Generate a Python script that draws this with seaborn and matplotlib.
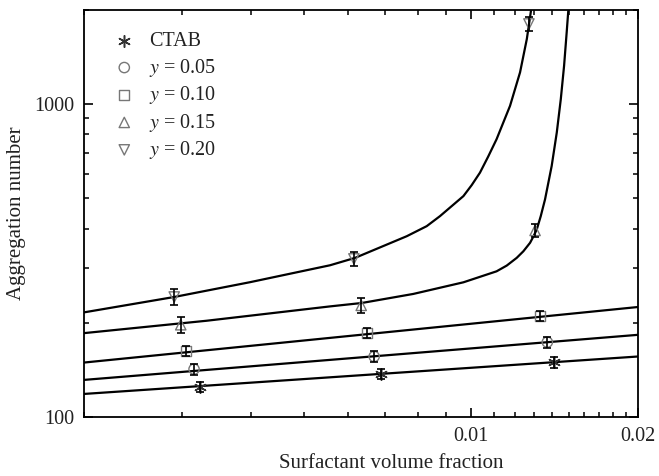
import matplotlib
matplotlib.use("Agg")
import matplotlib.pyplot as plt
import matplotlib.ticker as mticker
import numpy as np
import pandas as pd
import seaborn as sns

# ---- data ----
series_names = ["CTAB", "$y$ = 0.05", "$y$ = 0.10", "$y$ = 0.15", "$y$ = 0.20"]

ctab_x = [0.00324, 0.00687, 0.01411]
ctab_y = [124.8, 137.0, 149.7]
ctab_err = [5, 5, 6]

y05_x = [0.00316, 0.00668, 0.01372]
y05_y = [142.2, 156.1, 173.5]
y05_err = [6, 6, 7]

y10_x = [0.00306, 0.00649, 0.01331]
y10_y = [162.7, 185.4, 210.7]
y10_err = [6.5, 7, 8]

y15_x = [0.00299, 0.00633, 0.01304]
y15_y = [197.2, 227.4, 394.7]
y15_err = [11, 12, 18]

y20_x = [0.00291, 0.00614, 0.01271]
y20_y = [241.9, 320.2, 1805]
y20_err = [14, 17, 90]

fit_ctab_x = [0.002, 0.02]
fit_ctab_y = [118.5, 156.1]
fit_05_x = [0.002, 0.02]
fit_05_y = [131.4, 183.1]
fit_10_x = [0.002, 0.02]
fit_10_y = [149.3, 224.7]
fit_15_x = [0.002, 0.00333, 0.00556, 0.00634, 0.00786, 0.00968, 0.01111, 0.01159,
            0.01208, 0.01242, 0.01277, 0.01294, 0.01313, 0.01335, 0.01359, 0.01397,
            0.01427, 0.01451, 0.01471, 0.01487, 0.01497]
fit_15_y = [185.4, 203.1, 225.7, 231.4, 247.4, 269.5, 292.2, 304.8,
            322.6, 338.7, 360.4, 376.7, 397.5, 438.5, 496.1, 634.2,
            811.7, 1037.5, 1327, 1698, 1991]
fit_20_x = [0.002, 0.00291, 0.00399, 0.00556, 0.00617, 0.00765, 0.00831, 0.00878,
            0.00968, 0.01002, 0.01037, 0.01073, 0.01111, 0.01175, 0.01225, 0.0126, 0.01282]
fit_20_y = [216.0, 241.9, 269.8, 305.5, 322.6, 378.4, 407.4, 438.5,
            508.3, 551.2, 604.1, 679.9, 772.4, 987.6, 1264, 1616, 1991]

x_ticks = [0.01, 0.02]
x_ticklabels = ["0.01", "0.02"]
y_ticks = [100, 1000]
y_ticklabels = ["100", "1000"]

# ---- style ----
sns.set_theme(style="ticks")
plt.rcParams["font.family"] = ["Liberation Serif", "DejaVu Serif"]
plt.rcParams["mathtext.fontset"] = "stix"

fig = plt.figure(figsize=(6.59, 4.76), dpi=100)
ax = fig.add_axes([84 / 659, 1 - 417 / 476, 554 / 659, 407 / 476])

# fitted curves
fits = [(fit_ctab_x, fit_ctab_y), (fit_05_x, fit_05_y), (fit_10_x, fit_10_y),
        (fit_15_x, fit_15_y), (fit_20_x, fit_20_y)]
fit_df = pd.concat([pd.DataFrame({"x": fx, "y": fy, "s": i}) for i, (fx, fy) in enumerate(fits)],
                   ignore_index=True)
sns.lineplot(data=fit_df, x="x", y="y", units="s", estimator=None, sort=False,
             color="black", lw=1.6, ax=ax, zorder=2, legend=False,
             solid_joinstyle="round")

# data points
points = [(ctab_x, ctab_y, ctab_err, (6, 2, 0)),
          (y05_x, y05_y, y05_err, "o"),
          (y10_x, y10_y, y10_err, "s"),
          (y15_x, y15_y, y15_err, "^"),
          (y20_x, y20_y, y20_err, "v")]
handles = []
for name, (px, py, pe, mk) in zip(series_names, points):
    df = pd.DataFrame({"x": px, "y": py})
    if mk == (6, 2, 0):
        sns.scatterplot(data=df, x="x", y="y", marker=mk, s=70, color="#333333",
                        linewidth=1.1, ax=ax, zorder=3, label=name)
    else:
        sns.scatterplot(data=df, x="x", y="y", marker=mk, s=55, facecolors="none",
                        edgecolor="#777777", linewidth=1.0, ax=ax, zorder=3, label=name)
    handles.append(ax.collections[-1])
    ax.errorbar(px, py, yerr=pe, fmt="none", ecolor="black", elinewidth=1.2,
                capsize=3, capthick=1.2, zorder=4)

ax.set_xscale("log")
ax.set_yscale("log")
ax.set_xlim(0.002, 0.02)
ax.set_ylim(100, 2000)

ax.xaxis.set_major_locator(mticker.FixedLocator(x_ticks))
ax.xaxis.set_major_formatter(mticker.FixedFormatter(x_ticklabels))
ax.xaxis.set_minor_locator(mticker.MultipleLocator(0.001))
ax.xaxis.set_minor_formatter(mticker.NullFormatter())
ax.yaxis.set_major_locator(mticker.FixedLocator(y_ticks))
ax.yaxis.set_major_formatter(mticker.FixedFormatter(y_ticklabels))
ax.yaxis.set_minor_locator(mticker.LogLocator(base=10, subs=range(2, 10)))
ax.yaxis.set_minor_formatter(mticker.NullFormatter())

ax.tick_params(which="both", direction="in", top=True, right=True, color="black",
               labelsize=14.5, pad=7, labelcolor="#222222")
ax.tick_params(which="major", length=6.5, width=1.2)
ax.tick_params(which="minor", length=3.5, width=1.1)
for sp in ax.spines.values():
    sp.set_linewidth(1.3)
    sp.set_color("black")

ax.set_xlabel("Surfactant volume fraction", fontsize=15, x=0.555, labelpad=6, color="#222222")
ax.set_ylabel("Aggregation number", fontsize=15, labelpad=6, color="#222222")

leg = ax.legend(handles=handles, labels=series_names, loc="upper left",
                bbox_to_anchor=(0.04, 0.965), frameon=False, fontsize=14.5,
                handlelength=1.0, handletextpad=0.75, labelspacing=0.27,
                borderaxespad=0.0)
for t in leg.get_texts():
    t.set_color("#222222")

fig.savefig("out.png", dpi=100)
